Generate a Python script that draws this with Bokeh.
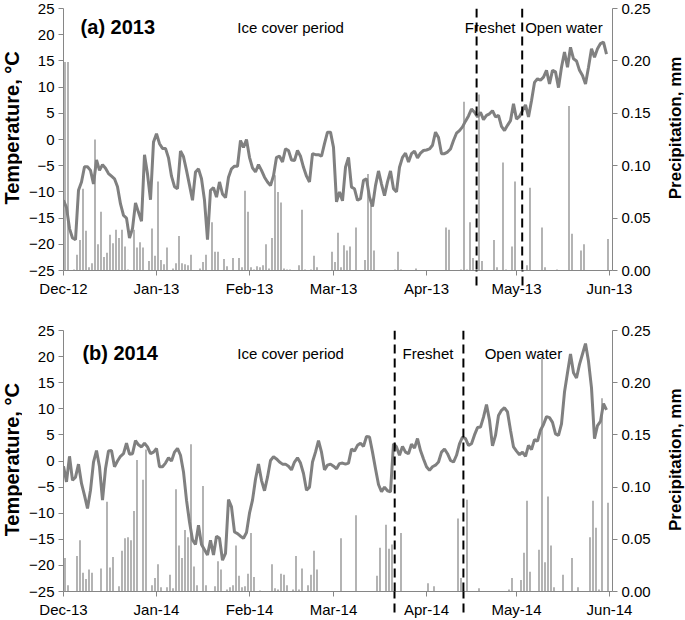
import math
import pandas as pd
from bokeh.plotting import figure
from bokeh.layouts import column, row
from bokeh.models import (ColumnDataSource, Range1d, LinearAxis, FixedTicker,
                          DatetimeTickFormatter, PrintfTickFormatter,
                          Label, Arrow)
from bokeh.embed import file_html
from bokeh.resources import INLINE

FONT = "Liberation Sans"

# ---------------- data ----------------
start_2013 = "2012-12-01"
start_2014 = "2013-12-01"

temp_2013 = [
    -11.6, -13, -17, -18.8, -19.1, -9.7, -8.1, -5.2, -5.2, -5.9,
    -8.5, -3.9, -5.9, -4.8, -5.5, -6.5, -7, -7.5, -9, -12.3,
    -14.5, -15, -18.8, -17, -12.1, -13.9, -15.6, -2.9, -6.6, -11.5,
    -0.5, 1.1, -0.8, -1.7, -1.7, -3.5, -7, -9, -9.4, -2.2,
    -3.3, -5.9, -8.7, -11.6, -6.2, -5.6, -7.5, -11.6, -19.1, -9.7,
    -9.2, -11, -8.1, -10.4, -11.1, -7.2, -5.6, -5.1, -5.1, -0.2,
    -1.5, 0, -3.4, -5.4, -6.2, -4.8, -5.9, -7.2, -8.1, -8.8,
    -6.9, -3.4, -3.2, -4.3, -1.8, -2.1, -3.9, -4, -2.1, -3.2,
    -5.3, -7, -8.1, -2.7, -2.9, -2.9, -3.2, -0.8, 1.4, 1.4,
    -1.5, -11.9, -10, -11.7, -5.3, -3.4, -9.1, -9.4, -11.6, -11.3,
    -7.8, -7.5, -11, -12.8, -8.8, -6, -8.5, -10.7, -8.1, -6,
    -9.4, -10, -5.3, -3.4, -2.6, -4.3, -2.7, -2.2, -3.5, -2.6,
    -2.1, -2, -1.8, -1.1, 1.4, 0.4, -2.7, -2.7, -2.4, -1.8,
    -0.2, 1.2, 1.7, 2.4, 3.5, 4.5, 5.8, 5.2, 4.3, 5.2,
    3.8, 4.6, 4.9, 5.5, 4.3, 4.6, 2.5, 1.7, 2.7, 3.6,
    6.8, 3.9, 4.4, 5.5, 6.6, 4.3, 7.4, 10.9, 11.6, 11.3,
    11.9, 13.2, 10.6, 13.2, 12.9, 9.9, 13.8, 16.7, 13.8, 17.6,
    15.4, 15, 13.2, 12.2, 10.6, 13.8, 17.3, 15.7, 17.3, 18.3,
    18.6, 16.3,
]

temp_2014 = [
    -1, -4, 0.9, -3.7, -3.1, -0.6, -4.3, -6.6, -9.1, -5.6,
    -0.2, 2, -1.1, -7.5, -1.5, 1.9, 2, -1.1, 0, 0.9,
    1.4, 3.4, 1.3, 1.4, 3.9, 3.1, 2.7, 3.4, 2.7, 1.4,
    1.7, 2.4, -1.1, -1.1, -0.4, 0.6, 0, 1.7, 2.4, 1.1,
    -2.1, -7.5, -11.7, -15.1, -16, -12.3, -16, -17, -18, -15.2,
    -18, -14.4, -14.8, -19, -17.7, -7.4, -8.8, -13.6, -13.9, -14.4,
    -14.8, -13.7, -10, -7.5, -3.5, -0.6, -3.7, -5.7, -3.1, 0.1,
    0.8, 0.4, -0.2, -0.6, -0.6, -1, -1.7, -0.2, 0.6, -0.4,
    -2.4, -5.6, -5, -0.2, 1.7, 3.9, 1.7, -1.7, -0.8, -0.6,
    -1, -1.5, -0.5, -0.4, -0.6, -0.4, 2.3, 1.9, 3, 3.4,
    2.8, 4.7, 4.6, 1.7, -1.5, -4.5, -5.9, -5, -5.7, -5.9,
    3.3, 2.7, 1.1, 2.8, 1.7, 1.4, 3.2, 2.5, 4.3, 2,
    0.4, -1.1, -1.8, -1.1, -0.8, -0.2, 1.7, 2.3, 1.4, 0.1,
    -0.2, 1.1, 3.3, 4.6, 4.3, 3, 3.3, 5, 6.4, 6.5,
    8.4, 10.8, 7.8, 2.9, 4.9, 8.7, 9.7, 10.2, 9.4, 5.9,
    2.7, 1.9, 1.2, 1.7, 0.9, 3, 2.2, 4.1, 3.8, 5.9,
    7, 8.5, 8.3, 7.4, 5.2, 4.9, 7.1, 13.2, 16.9, 20.5,
    16.9, 15.9, 18.5, 20.5, 22.5, 19.1, 14, 4.3, 6.8, 7.6,
    11, 9.8,
]

precip_2013_day = [
    0, 1, 3, 4, 5, 6, 7, 8, 9, 10, 11, 12, 13, 14, 15, 16, 17, 18, 19, 20,
    21, 23, 24, 25, 26, 28, 29, 30, 31, 32, 33, 34, 36, 37, 38, 39, 40, 41, 42, 45,
    46, 47, 49, 50, 51, 53, 54, 56, 58, 59, 60, 61, 62, 63, 64, 65, 66, 67, 68, 69,
    70, 71, 72, 73, 74, 75, 78, 79, 80, 82, 83, 84, 89, 90, 91, 92, 93, 94, 95, 97,
    100, 101, 102, 103, 110, 111, 112, 117, 127, 128, 132, 133, 134, 135, 136, 138, 139, 143, 144, 146,
    147, 149, 150, 154, 155, 159, 160, 164, 168, 169, 172, 173, 181,
]
precip_2013_mm = [
    0.199, 0.199, 0.001, 0.015, 0.029, 0.078, 0.038, 0.003, 0.007, 0.125,
    0.025, 0.056, 0.013, 0.017, 0.034, 0.026, 0.039, 0.031, 0.039, 0.023,
    0.001, 0.039, 0.022, 0.027, 0.022, 0.009, 0.040, 0.014, 0.085, 0.010,
    0.006, 0.022, 0.002, 0.007, 0.033, 0.007, 0.006, 0.005, 0.015, 0.002,
    0.008, 0.015, 0.046, 0.018, 0.018, 0.011, 0.004, 0.012, 0.012, 0.003,
    0.076, 0.056, 0.003, 0.001, 0.004, 0.003, 0.005, 0.025, 0.002, 0.031,
    0.091, 0.075, 0.065, 0.002, 0.001, 0.001, 0.005, 0.058, 0.001, 0.001,
    0.014, 0.003, 0.018, 0.008, 0.036, 0.003, 0.024, 0.019, 0.023, 0.041,
    0.010, 0.092, 0.063, 0.019, 0.001, 0.018, 0.001, 0.002, 0.041, 0.039,
    0.001, 0.161, 0.001, 0.046, 0.012, 0.168, 0.009, 0.029, 0.003, 0.103,
    0.001, 0.023, 0.085, 0.005, 0.079, 0.041, 0.003, 0.001, 0.157, 0.035,
    0.019, 0.025, 0.030,
]

precip_2014_day = [
    0, 1, 4, 5, 6, 7, 8, 9, 12, 14, 15, 16, 18, 19, 20, 21, 22, 23, 24, 26,
    27, 29, 30, 31, 32, 34, 35, 36, 37, 38, 39, 40, 41, 42, 43, 44, 46, 47, 50, 51,
    52, 54, 55, 56, 57, 58, 59, 60, 61, 62, 63, 65, 69, 70, 71, 72, 73, 74, 76, 77,
    78, 79, 81, 82, 83, 84, 92, 97, 104, 105, 107, 108, 109, 112, 121, 123, 131, 132, 134, 138,
    148, 149, 152, 153, 154, 155, 158, 159, 160, 161, 162, 163, 166, 169, 171, 175, 176, 177, 178, 179,
    181,
]
precip_2014_mm = [
    0.032, 0.006, 0.034, 0.049, 0.018, 0.012, 0.021, 0.018, 0.022, 0.086,
    0.023, 0.033, 0.005, 0.039, 0.051, 0.052, 0.049, 0.077, 0.126, 0.107,
    0.136, 0.006, 0.013, 0.026, 0.004, 0.004, 0.016, 0.003, 0.098, 0.044,
    0.032, 0.059, 0.052, 0.141, 0.024, 0.006, 0.101, 0.006, 0.005, 0.029,
    0.021, 0.002, 0.004, 0.006, 0.044, 0.015, 0.004, 0.005, 0.017, 0.056,
    0.014, 0.001, 0.026, 0.003, 0.002, 0.017, 0.016, 0.006, 0.002, 0.034,
    0.002, 0.022, 0.006, 0.016, 0.039, 0.021, 0.051, 0.073, 0.015, 0.042,
    0.064, 0.041, 0.045, 0.056, 0.008, 0.005, 0.070, 0.013, 0.088, 0.003,
    0.002, 0.013, 0.011, 0.037, 0.087, 0.019, 0.040, 0.223, 0.028, 0.091,
    0.044, 0.004, 0.016, 0.032, 0.004, 0.052, 0.087, 0.061, 0.002, 0.185,
    0.085,
]

# period boundaries (days after 1 Dec)
bounds_2013 = [137.7, 152.9]
bounds_2014 = [110.4, 133.3]

temp_ticks = [-25, -20, -15, -10, -5, 0, 5, 10, 15, 20, 25]
precip_ticks = [0, 0.05, 0.10, 0.15, 0.20, 0.25]

AXIS_COLOR = "#868686"
LINE_COLOR = "#808080"
BAR_COLOR = "#8f8f8f"

LEFT_W = 22     # strip holding the temperature title
RIGHT_W = 20    # strip holding the precipitation title
MAIN_W = 685 - LEFT_W - RIGHT_W
TICK_OUT = 5
LABEL_GAP = 4


def ms(start, days):
    return (pd.Timestamp(start) + pd.Timedelta(days=days)).value / 1e6


def style_axis(ax):
    ax.axis_line_color = AXIS_COLOR
    ax.axis_line_width = 1
    ax.major_tick_line_color = AXIS_COLOR
    ax.major_tick_out = TICK_OUT
    ax.major_tick_in = 0
    ax.minor_tick_out = 0
    ax.minor_tick_in = 0
    ax.major_label_text_font = FONT
    ax.major_label_text_font_size = "15px"
    ax.major_label_text_color = "black"
    ax.major_label_standoff = LABEL_GAP


def title_strip(text, width, height, center_from_top, size):
    s = figure(width=width, height=height, x_range=Range1d(0, width),
               y_range=Range1d(0, height), output_backend="svg",
               toolbar_location=None, min_border=0,
               x_axis_location=None, y_axis_location=None)
    s.outline_line_color = None
    s.grid.visible = False
    s.add_layout(Label(x=width / 2.0, y=height - center_from_top, text=text,
                       angle=math.pi / 2, text_font=FONT, text_font_size=size,
                       text_font_style="bold", text_align="center",
                       text_baseline="middle", text_color="black"))
    return s


def make_panel(start, temps, p_day, p_mm, bounds, height, b_top, b_bottom,
               dash_ext, texts):
    dates = pd.date_range(start, periods=len(temps), freq="D")
    x0 = pd.Timestamp(start)
    x1 = x0 + pd.Timedelta(days=183)
    p = figure(width=MAIN_W, height=height, x_axis_type="datetime",
               x_range=Range1d(x0, x1), y_range=Range1d(-25, 25),
               output_backend="svg", toolbar_location=None,
               min_border_left=63 - LEFT_W, min_border_right=685 - RIGHT_W - 612,
               min_border_top=b_top, min_border_bottom=b_bottom)
    p.outline_line_color = None
    p.grid.visible = False
    p.background_fill_color = "white"
    p.border_fill_color = "white"
    p.extra_y_ranges = {"precip": Range1d(0, 0.25)}

    bar_x = [x0 + pd.Timedelta(days=d + 0.5) for d in p_day]
    bsrc = ColumnDataSource(dict(x=bar_x, top=p_mm))
    p.vbar(x="x", top="top", bottom=0, width=0.45 * 86400000, source=bsrc,
           y_range_name="precip", fill_color=BAR_COLOR, line_color=None)

    lsrc = ColumnDataSource(dict(x=dates, y=temps))
    p.line("x", "y", source=lsrc, line_width=3, line_color=LINE_COLOR)

    # x axis: month ticks; boundary dashes continue below the axis as minor ticks
    month_ms = [t.value / 1e6 for t in pd.date_range(start, periods=7, freq="MS")]
    bound_ms = [ms(start, b) for b in bounds]
    xa = p.xaxis[0]
    style_axis(xa)
    xa.ticker = FixedTicker(ticks=month_ms, minor_ticks=bound_ms)
    fmt = "%b-%y"
    xa.formatter = DatetimeTickFormatter(days=fmt, months=fmt, years=fmt,
                                         hours=fmt, minutes=fmt, hourmin=fmt)
    xa.minor_tick_out = dash_ext
    xa.minor_tick_in = 0
    xa.minor_tick_line_color = "black"
    xa.minor_tick_line_width = 2
    xa.minor_tick_line_dash = "9 5"
    # keep the month labels where they'd sit with the short major ticks
    xa.major_label_standoff = LABEL_GAP - (dash_ext - TICK_OUT)

    ya = p.yaxis[0]
    style_axis(ya)
    ya.ticker = FixedTicker(ticks=temp_ticks)

    ra = LinearAxis(y_range_name="precip")
    style_axis(ra)
    ra.ticker = FixedTicker(ticks=precip_ticks)
    ra.formatter = PrintfTickFormatter(format="%.2f")
    p.add_layout(ra, "right")

    # period boundaries
    for bm in bound_ms:
        p.add_layout(Arrow(end=None, x_start=bm, y_start=25, x_end=bm, y_end=-25,
                           line_color="black", line_width=2, line_dash="9 5"))

    # texts
    for txt, d, yv, align, bold in texts:
        p.add_layout(Label(x=ms(start, d), y=yv, text=txt, text_font=FONT,
                           text_font_size="20px" if bold else "15px",
                           text_font_style="bold" if bold else "normal",
                           text_align=align, text_baseline="middle",
                           text_color="black"))
    return p


p1 = make_panel(start_2013, temp_2013, precip_2013_day, precip_2013_mm, bounds_2013,
                305, 8, 35, 15,
                [("(a) 2013", 5.7, 21.4, "left", True),
                 ("Ice cover period", 75.7, 21.4, "center", False),
                 ("Freshet", 142.2, 21.4, "center", False),
                 ("Open water", 166.8, 21.4, "center", False)])
p2 = make_panel(start_2014, temp_2014, precip_2014_day, precip_2014_mm, bounds_2014,
                315, 25, 28, 21,
                [("(b) 2014", 6.3, 20.6, "left", True),
                 ("Ice cover period", 75.7, 20.6, "center", False),
                 ("Freshet", 121.5, 20.6, "center", False),
                 ("Open water", 153.3, 20.6, "center", False)])

row1 = row(title_strip("Temperature, \u00b0C", LEFT_W, 305, 139, "20px"), p1,
           title_strip("Precipitation, mm", RIGHT_W, 305, 139, "17px"), spacing=0)
row2 = row(title_strip("Temperature, \u00b0C", LEFT_W, 315, 156, "20px"), p2,
           title_strip("Precipitation, mm", RIGHT_W, 315, 156, "17px"), spacing=0)

layout = column(row1, row2, spacing=0)

open("out.html", "w").write(file_html(layout, INLINE))
